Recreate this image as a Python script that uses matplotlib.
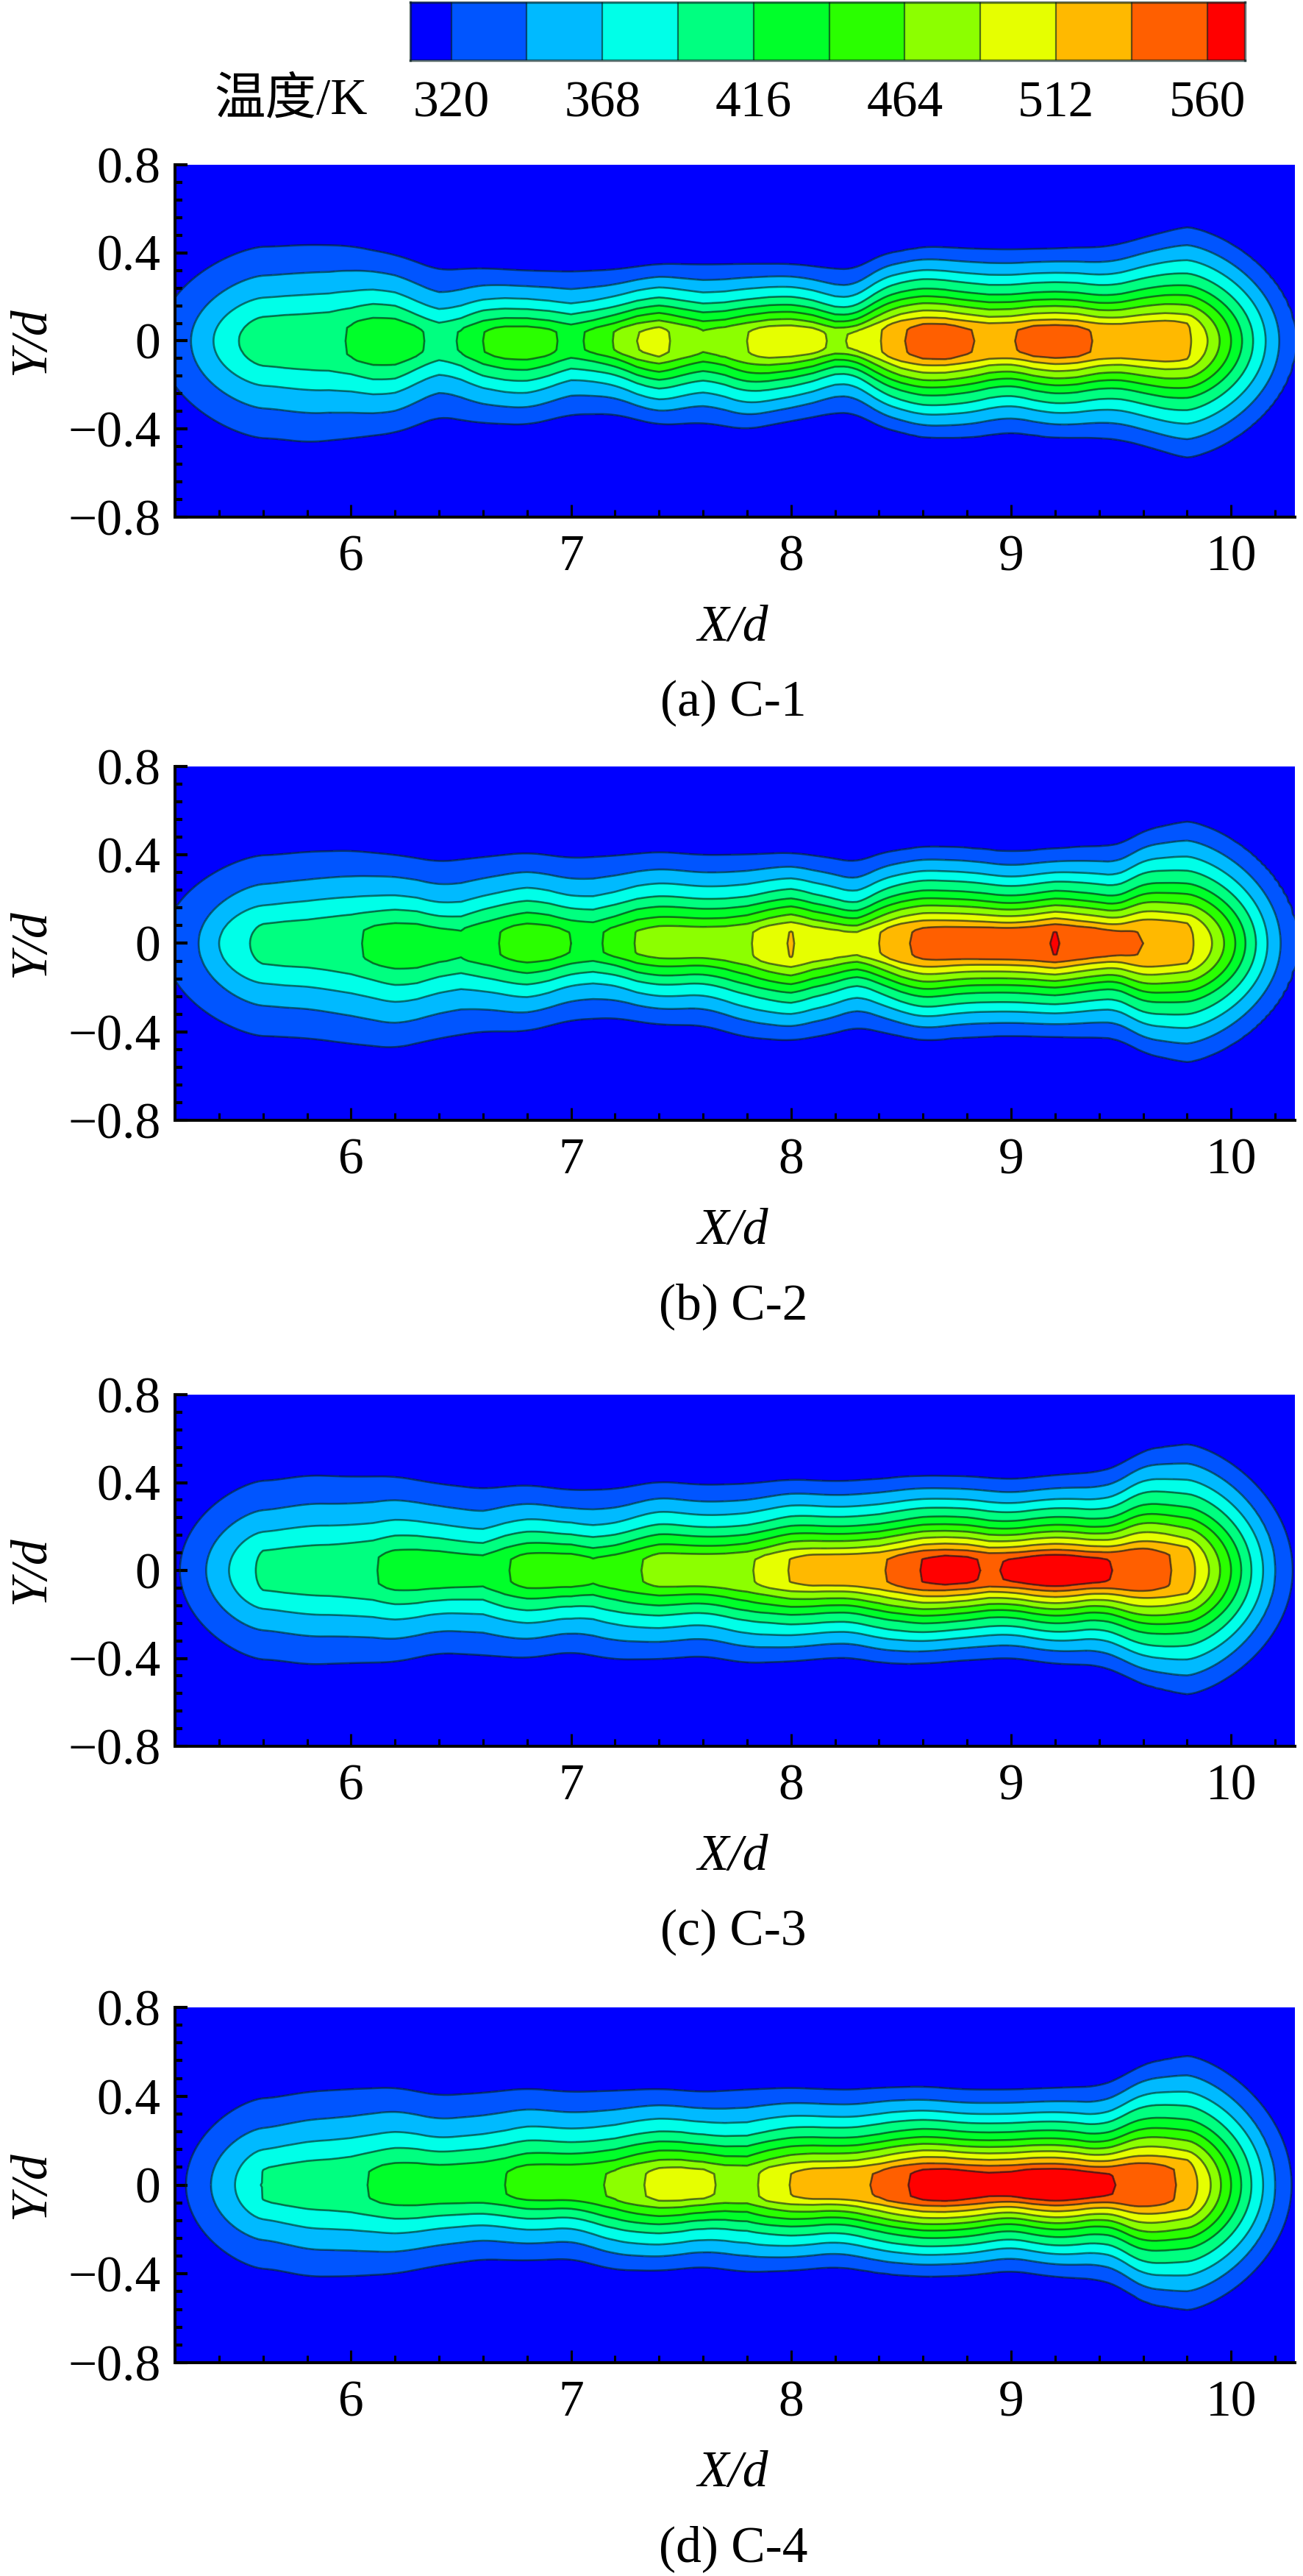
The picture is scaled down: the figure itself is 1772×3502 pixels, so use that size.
import numpy as np
import matplotlib
matplotlib.use("Agg")
import matplotlib.pyplot as plt
from matplotlib.colors import ListedColormap

# ── values ─────────────────────────────────────────────────────────────────
LEVELS = [320, 344, 368, 392, 416, 440, 464, 488, 512, 536, 560]
BAND_COLORS = ["#0000ff", "#0055ff", "#00baff", "#00ffe8", "#00ff80", "#00ff2a",
               "#2aff00", "#8cff00", "#e6ff00", "#ffb900", "#ff5f00", "#ff0000"]
BAR_ENDS = [307, 572]
BAR_LABELS = [320, 368, 416, 464, 512, 560]
Y_MAJOR = [-0.8, -0.4, 0, 0.4, 0.8]
Y_LABELS = ["\u22120.8", "\u22120.4", "0", "0.4", "0.8"]
X_MAJOR = [6, 7, 8, 9, 10]
CAPTIONS = ["(a) C-1", "(b) C-2", "(c) C-3", "(d) C-4"]

# stations along the jet axis
CORE_X = [5.2, 5.3, 5.4, 5.5, 5.6, 5.7, 5.8, 5.9, 6.0, 6.1, 6.2, 6.3, 6.4,
          6.5, 6.6, 6.7, 6.8, 6.9, 7.0, 7.1, 7.2, 7.3, 7.4, 7.5, 7.6, 7.7,
          7.8, 7.9, 8.0, 8.1, 8.2, 8.3, 8.4, 8.5, 8.6, 8.7, 8.8, 8.9, 9.0,
          9.1, 9.2, 9.3, 9.4, 9.5, 9.6, 9.7, 9.8, 9.9, 10.0, 10.1, 10.2, 10.3]
EDGE_X = [5.6, 5.8, 6.0, 6.2, 6.4, 6.6, 6.8, 7.0, 7.2, 7.4, 7.6,
          7.8, 8.0, 8.2, 8.3, 8.4, 8.6, 8.8, 9.0, 9.2, 9.4, 9.5, 9.6, 9.8]

# centreline temperature (K)
core_c1 = [328, 350, 374, 394, 404, 407, 408, 410, 418, 432, 434, 420, 408,
           418, 440, 450, 452, 445, 432, 446, 466, 488, 496, 480, 466, 472,
           488, 500, 503, 498, 482, 494, 510, 534, 545, 548, 539, 530, 534,
           545, 548, 545, 532, 527, 526, 525, 518, 486, 440, 392, 350, 318]
core_c2 = [325, 342, 368, 388, 398, 402, 404, 408, 412, 420, 428, 430, 422,
           418, 432, 443, 452, 450, 440, 434, 448, 466, 472, 474, 474, 476,
           484, 502, 514, 500, 496, 494, 512, 532, 542, 545, 546, 548, 550,
           553, 562, 552, 546, 540, 536, 528, 520, 494, 450, 398, 352, 320]
core_c3 = [316, 334, 358, 380, 398, 402, 404, 406, 410, 414, 424, 428, 428,
           424, 421, 438, 448, 452, 454, 443, 450, 462, 472, 474, 476, 478,
           484, 498, 514, 522, 526, 528, 532, 546, 562, 568, 566, 556, 564,
           570, 572, 570, 566, 556, 548, 540, 526, 488, 440, 388, 344, 314]
core_c4 = [310, 330, 352, 374, 394, 400, 404, 406, 410, 418, 426, 430, 430,
           432, 434, 440, 450, 454, 456, 460, 468, 484, 496, 500, 496, 482,
           478, 498, 513, 522, 526, 530, 540, 556, 568, 572, 568, 564, 566,
           572, 574, 572, 566, 558, 548, 542, 530, 492, 440, 388, 344, 312]

# where the 320 K contour sits above and below the axis (Y/d)
upper_c1 = [.427, .435, .427, .39, .33, .33, .32, .316, .325, .35, .347,
            .35, .35, .33, .33, .39, .427, .42, .415, .42, .425, .44, .47, .52]
lower_c1 = [.44, .457, .44, .415, .355, .372, .378, .338, .335, .38, .372,
            .40, .364, .33, .333, .39, .44, .44, .415, .44, .44, .45, .475, .534]
upper_c2 = [.397, .413, .416, .40, .374, .39, .408, .388, .397, .413, .40,
            .402, .41, .385, .368, .408, .438, .433, .413, .43, .44, .445, .51, .554]
lower_c2 = [.418, .43, .452, .468, .43, .40, .395, .35, .34, .367, .373,
            .424, .44, .407, .38, .40, .44, .424, .418, .424, .424, .435, .497, .54]
upper_c3 = [.406, .43, .426, .425, .395, .375, .387, .367, .372, .403, .39,
            .395, .414, .406, .41, .417, .432, .429, .414, .434, .448, .48, .548, .576]
lower_c3 = [.403, .425, .42, .414, .38, .386, .397, .374, .403, .403, .391,
            .42, .414, .397, .40, .42, .425, .408, .397, .425, .431, .47, .52, .567]
upper_c4 = [.388, .418, .43, .436, .407, .416, .433, .42, .425, .433, .42,
            .43, .438, .43, .43, .438, .444, .43, .43, .438, .444, .483, .545, .584]
lower_c4 = [.374, .408, .408, .397, .363, .337, .34, .335, .38, .386, .369,
            .391, .386, .369, .38, .397, .414, .408, .386, .414, .425, .459, .531, .565]

# lateral temperature profile, normalised, measured across the hot part of C-1
PROFILE_R = [0, .12, .17, .23, .30, .375, .448, .53, .633, .734, .856, 1.0, 1.15, 1.4]
PROFILE_F = [1, .995, .96, .86, .767, .669, .571, .473, .376, .278, .18, .08, .035, 0]
T_AMBIENT = 300
CAP_LEFT, CAP_RIGHT = 5.6, 9.8
# the inner contours wave more than the outer one
WAVE_GAIN = 4.0

cores = [core_c1, core_c2, core_c3, core_c4]
uppers = [upper_c1, upper_c2, upper_c3, upper_c4]
lowers = [lower_c1, lower_c2, lower_c3, lower_c4]

# panel top and bottom in pixels
PANEL_TOPS = [224, 1042, 1896, 2729]
PANEL_BOTTOMS = [703, 1523, 2374, 3212]
AX_LEFT, AX_RIGHT = 238, 1761
W, H = 1772, 3502

plt.rcParams["font.family"] = ["Liberation Serif", "Noto Sans CJK SC"]
FS = 50
LINE_COLOR = (0.02, 0.12, 0.12, 0.62)


def px_axes(fig, x0, x1, y0, y1):
    return fig.add_axes([x0 / W, 1 - y1 / H, (x1 - x0) / W, (y1 - y0) / H])


def smooth(v, n):
    pad = np.pad(v, n // 2, mode="edge")
    return np.convolve(pad, np.ones(n) / n, mode="valid")


def half_width(t0, edge):
    # width that puts the 320 K level where it was read
    edge_f = 20.0 / np.maximum(t0 - T_AMBIENT, 1.0)
    edge_r = np.interp(np.minimum(edge_f, 1.0), PROFILE_F[::-1], PROFILE_R[::-1])
    return np.maximum(edge / np.maximum(edge_r, 0.05), 0.02)


def fill_cap(z, x, y, xc, cap_x, cap_t, w_up, w_lo):
    # closes the jet end: each level runs from its place on the axis to its
    # place in the section at xc
    t0c = cap_t[0]
    tk = np.linspace(T_AMBIENT + 1, t0c, 70)
    dist = np.abs(np.array(cap_x) - xc)
    dist = np.append(dist, dist[-1] + 0.25)
    temps = np.append(cap_t, T_AMBIENT)
    a = np.maximum(np.interp(tk, temps[::-1], dist[::-1]), 1e-3)
    rk = np.interp((tk - T_AMBIENT) / (t0c - T_AMBIENT), PROFILE_F[::-1], PROFILE_R[::-1])
    b_up = np.maximum(rk * w_up, 1e-3)
    b_lo = np.maximum(rk * w_lo, 1e-3)
    cols = np.where((x - xc) * (cap_x[-1] - xc) > 0)[0]
    for j in cols:
        dx = abs(x[j] - xc)
        for i, yy in enumerate(y):
            b = b_up if yy >= 0 else b_lo
            g = (dx / a) ** 1.45 + (abs(yy) / b) ** 2
            z[i, j] = np.interp(1.0, g, tk)


def build_field(core, upper, lower):
    x = np.arange(5.2, 10.3001, 0.02)
    y = np.arange(-0.8, 0.8001, 0.01)
    t0 = np.interp(x, CORE_X, core)
    up = smooth(np.interp(x, EDGE_X, upper), 7)
    lo = smooth(np.interp(x, EDGE_X, lower), 7)
    w_up = half_width(t0, up)
    w_lo = half_width(t0, lo)
    taper = np.clip((x - CAP_LEFT) / 0.3, 0, 1) * np.clip((CAP_RIGHT - x) / 0.3, 0, 1)
    dev_up = (up / smooth(up, 31) - 1) * taper
    dev_lo = (lo / smooth(lo, 31) - 1) * taper
    z = np.zeros((len(y), len(x)))
    for j in range(len(x)):
        r0 = np.where(y >= 0, y / w_up[j], -y / w_lo[j])
        extra = (WAVE_GAIN - 1) * np.clip(1 - r0, 0, 1)
        r = np.where(y >= 0, y / (w_up[j] * (1 + dev_up[j] * extra)),
                     -y / (w_lo[j] * (1 + dev_lo[j] * extra)))
        z[:, j] = T_AMBIENT + (t0[j] - T_AMBIENT) * np.interp(r, PROFILE_R, PROFILE_F)

    core_x = np.array(CORE_X)
    core_t = np.array(core, dtype=float)
    jl = np.argmin(np.abs(x - CAP_LEFT))
    jr = np.argmin(np.abs(x - CAP_RIGHT))
    left = core_x <= CAP_LEFT + 1e-6
    right = core_x >= CAP_RIGHT - 1e-6
    fill_cap(z, x, y, CAP_LEFT, list(core_x[left][::-1]), core_t[left][::-1], w_up[jl], w_lo[jl])
    fill_cap(z, x, y, CAP_RIGHT, list(core_x[right]), core_t[right], w_up[jr], w_lo[jr])
    return x, y, z


fig = plt.figure(figsize=(W / 100, H / 100), dpi=100)

# colour bar
bar = px_axes(fig, 558, 1693, 3, 82)
edges = [BAR_ENDS[0]] + LEVELS + [BAR_ENDS[1]]
bar.pcolormesh(edges, [0, 1], np.arange(12).reshape(1, -1),
               cmap=ListedColormap(BAND_COLORS), vmin=-0.5, vmax=11.5)
bar.vlines(LEVELS, 0, 1, color=LINE_COLOR, lw=1.6)
bar.set_yticks([])
bar.set_xticks(BAR_LABELS)
bar.set_xticklabels([str(v) for v in BAR_LABELS], fontsize=FS)
bar.tick_params(axis="x", length=0, pad=20)
for s in bar.spines.values():
    s.set_color(LINE_COLOR)
    s.set_linewidth(2.4)
fig.text(396 / W, 1 - 137 / H, "温度/K", fontsize=FS, ha="center", va="center")

# panels
bands = [0] + LEVELS + [900]
for i in range(4):
    ax = px_axes(fig, AX_LEFT, AX_RIGHT, PANEL_TOPS[i], PANEL_BOTTOMS[i])
    x, y, z = build_field(cores[i], uppers[i], lowers[i])
    ax.contourf(x, y, z, levels=bands, colors=BAND_COLORS)
    ax.contour(x, y, z, levels=LEVELS, colors=[LINE_COLOR], linewidths=1.9)
    ax.set_facecolor(BAND_COLORS[0])
    ax.set_xlim(5.2, 10.29)
    ax.set_ylim(-0.8, 0.8)

    ax.set_xticks(X_MAJOR)
    ax.set_xticks(np.arange(5.4, 10.29, 0.2), minor=True)
    ax.set_yticks(Y_MAJOR)
    ax.set_yticklabels(Y_LABELS)
    ax.set_yticks(np.arange(-0.8, 0.81, 0.08), minor=True)
    ax.tick_params(axis="x", which="major", direction="in", labelsize=FS, length=12, width=2.2, pad=17)
    ax.tick_params(axis="x", which="minor", direction="in", length=7, width=2.2)
    ax.tick_params(axis="y", which="major", direction="in", labelsize=FS, length=12, width=3, pad=14)
    ax.tick_params(axis="y", which="minor", direction="in", length=7, width=3)
    ax.spines["top"].set_visible(False)
    ax.spines["right"].set_visible(False)
    ax.spines["left"].set_linewidth(2.9)
    ax.spines["bottom"].set_linewidth(2.9)

    bottom = PANEL_BOTTOMS[i]
    mid = (PANEL_TOPS[i] + bottom) / 2
    fig.text(997 / W, 1 - (bottom + 151) / H, "X/d", fontsize=FS, style="italic",
             ha="center", va="center")
    fig.text(997 / W, 1 - (bottom + 253) / H, CAPTIONS[i], fontsize=FS,
             ha="center", va="center")
    fig.text(43 / W, 1 - mid / H, "Y/d", fontsize=FS, style="italic", rotation=90,
             ha="center", va="center")

fig.savefig("out.png", dpi=100)
